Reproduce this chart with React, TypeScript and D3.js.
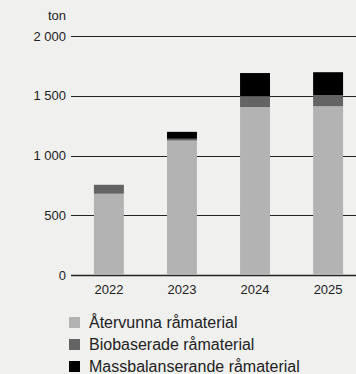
import React from "react";
import * as d3 from "d3";

const years = ["2022", "2023", "2024", "2025"];
const recycled = [680, 1125, 1405, 1412];
const biobased = [75, 15, 92, 92];
const massBalance = [0, 58, 193, 193];
const yTicks = [0, 500, 1000, 1500, 2000];
const seriesNames = ["Återvunna råmaterial", "Biobaserade råmaterial", "Massbalanserande råmaterial"];
const seriesColors = ["#b3b3b3", "#646464", "#000000"];

const W = 356;
const H = 374;

export default function App() {
  const x = d3.scaleBand<string>().domain(years).range([72, 365]).paddingInner(0.59).paddingOuter(0.3);
  const y = d3.scaleLinear().domain([0, 2000]).range([275, 36]);
  const fmt = (v: number) => d3.format(",")(v).replace(/,/g, " ");

  const rows = years.map((yr, i) => ({ yr, vals: [recycled[i], biobased[i], massBalance[i]] }));
  const stack = d3.stack<any>().keys(["0", "1", "2"]).value((d: any, k: string) => d.vals[+k]);
  const stacked = stack(rows as any);

  const font = "Arial, 'Liberation Sans', Helvetica, sans-serif";

  return (
    <svg width={W} height={H} style={{ position: "absolute", left: 0, top: 0, background: "#f0f0ef" }} fontFamily={font}>
      <rect x={0} y={0} width={W} height={H} fill="#f0f0ef" />
      <text x={66} y={20} fontSize={13} textAnchor="end" fill="#222">ton</text>
      {yTicks.map((t) => (
        <g key={t}>
          <line x1={71} x2={W} y1={Math.round(y(t)) + 0.5} y2={Math.round(y(t)) + 0.5} stroke="#222" strokeWidth={t === 0 ? 1.6 : 1} />
          <text x={66} y={y(t)} dy="0.35em" fontSize={13} textAnchor="end" fill="#222">{fmt(t)}</text>
        </g>
      ))}
      {stacked.map((s, si) => (
        <g key={si} fill={seriesColors[si]}>
          {s.map((d: any, i: number) => {
            const h = y(d[0]) - y(d[1]);
            if (h <= 0) return null;
            return <rect key={i} x={x(years[i])} width={x.bandwidth()} y={y(d[1])} height={h} />;
          })}
        </g>
      ))}
      {years.map((yr) => (
        <text key={yr} x={(x(yr) as number) + x.bandwidth() / 2} y={294} fontSize={13} textAnchor="middle" fill="#222">{yr}</text>
      ))}
      {seriesNames.map((n, i) => (
        <g key={n} transform={`translate(69, ${317 + i * 22})`}>
          <rect x={0} y={0} width={11} height={11} fill={seriesColors[i]} />
          <text x={20} y={11} fontSize={16} fill="#222">{n}</text>
        </g>
      ))}
    </svg>
  );
}
